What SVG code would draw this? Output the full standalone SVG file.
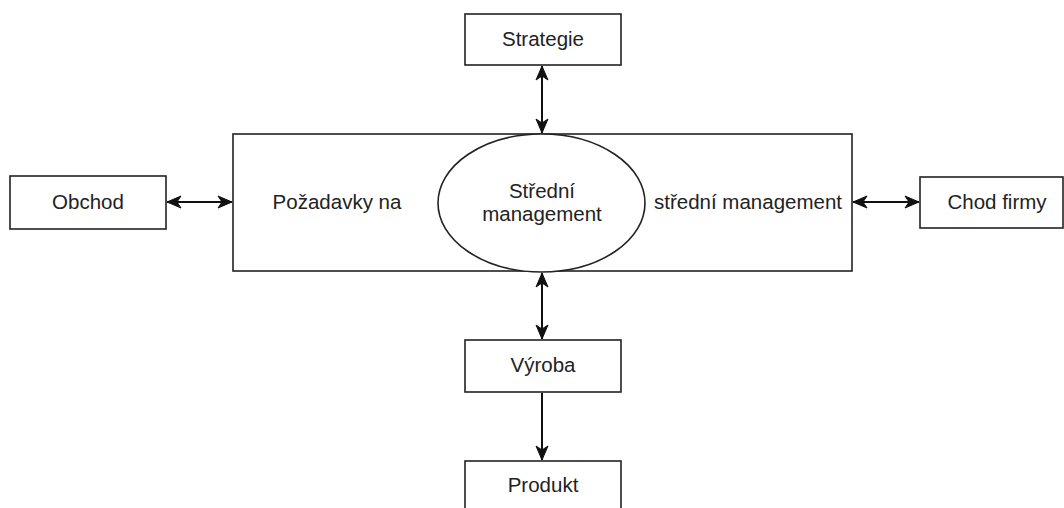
<svg xmlns="http://www.w3.org/2000/svg" width="1064" height="508" viewBox="0 0 1064 508">
  <defs>
    <marker id="arr" markerUnits="userSpaceOnUse" markerWidth="16" markerHeight="14" viewBox="0 0 16 14" refX="15" refY="7" orient="auto-start-reverse">
      <path d="M1,1 L15,7 L1,13 L5,7 Z" fill="#111" stroke="#111" stroke-width="1" stroke-linejoin="miter"/>
    </marker>
    <style>
      .box { fill: #fff; stroke: #222; stroke-width: 1.6; }
      .lbl { font-family: "Liberation Sans", Arial, sans-serif; font-size: 20.5px; fill: #222; text-anchor: middle; }
      .conn { stroke: #111; stroke-width: 2; fill: none; }
    </style>
  </defs>
  <rect width="1064" height="508" fill="#fff"/>

  <g id="main">
    <rect class="box" x="233" y="134" width="619" height="137"/>
    <text class="lbl" x="337" y="209">Požadavky na</text>
    <text class="lbl" x="748" y="209">střední management</text>
  </g>
  <g id="stredni">
    <ellipse class="box" cx="541.5" cy="203" rx="103.5" ry="69"/>
    <text class="lbl" x="542" y="198">Střední</text>
    <text class="lbl" x="542" y="221">management</text>
  </g>
  <g id="strategie">
    <rect class="box" x="465" y="14" width="156" height="51"/>
    <text class="lbl" x="543" y="46">Strategie</text>
  </g>
  <g id="obchod">
    <rect class="box" x="10" y="176" width="156" height="53"/>
    <text class="lbl" x="88" y="209">Obchod</text>
  </g>
  <g id="chod">
    <rect class="box" x="920" y="177" width="143" height="51"/>
    <text class="lbl" x="997" y="209">Chod firmy</text>
  </g>
  <g id="vyroba">
    <rect class="box" x="465" y="340" width="156" height="52"/>
    <text class="lbl" x="543" y="372">Výroba</text>
  </g>
  <g id="produkt">
    <rect class="box" x="465" y="461" width="156" height="60"/>
    <text class="lbl" x="543" y="492">Produkt</text>
  </g>

  <g id="connectors">
    <line class="conn" x1="542" y1="66" x2="542" y2="133" marker-start="url(#arr)" marker-end="url(#arr)"/>
    <line class="conn" x1="167" y1="202" x2="232" y2="202" marker-start="url(#arr)" marker-end="url(#arr)"/>
    <line class="conn" x1="853" y1="202" x2="919" y2="202" marker-start="url(#arr)" marker-end="url(#arr)"/>
    <line class="conn" x1="542" y1="273" x2="542" y2="339" marker-start="url(#arr)" marker-end="url(#arr)"/>
    <line class="conn" x1="542" y1="393" x2="542" y2="460" marker-end="url(#arr)"/>
  </g>
</svg>
